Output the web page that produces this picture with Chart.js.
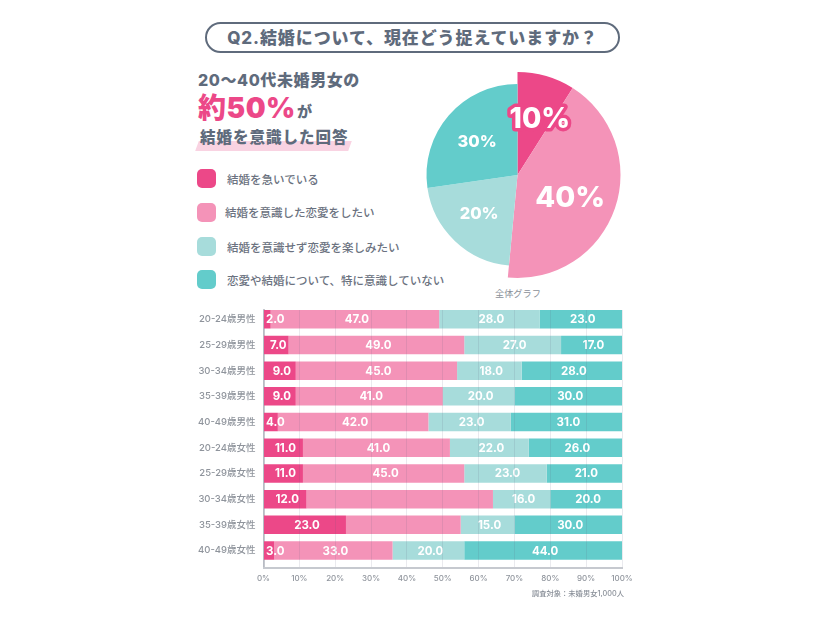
<!DOCTYPE html>
<html lang="ja"><head><meta charset="utf-8">
<script src="https://cdn.jsdelivr.net/npm/chart.js@4"></script>
<style>
html,body{margin:0;padding:0;background:#fff;}
body{width:826px;height:620px;position:relative;overflow:hidden;font-family:Inter,"Noto Sans CJK JP",sans-serif;color:#5f6b7c;}
canvas{position:absolute;}
.t{position:absolute;white-space:nowrap;line-height:1;}
#title{position:absolute;left:205px;top:22px;width:411px;height:27px;border:2.5px solid #5f6b7c;border-radius:17px;text-align:center;font-weight:800;font-size:17px;line-height:28px;letter-spacing:.9px;}
.sw{position:absolute;left:197px;width:19px;height:19px;border-radius:5px;}
.lg{font-size:11.5px;font-weight:500;color:#6b7280;}
#bar{position:absolute;left:197px;top:141px;width:153px;height:10px;background:#f9d3e2;transform:skewX(-20deg);}
</style></head><body>
<div id="title">Q2.結婚について、現在どう捉えていますか？</div>
<div class="t" style="left:198px;top:72px;font-size:16px;font-weight:800;letter-spacing:.6px">20～40代未婚男女の</div>
<div class="t" style="left:198px;top:94px;font-size:28px;font-weight:900;color:#ec4888;letter-spacing:.5px">約50%</div>
<div class="t" style="left:297px;top:104px;font-size:15px;font-weight:800">が</div>
<div id="bar"></div>
<div class="t" style="left:200px;top:130px;font-size:15.5px;font-weight:800;letter-spacing:1px">結婚を意識した回答</div>
<div class="sw" style="top:169px;background:#ec4888"></div>
<div class="sw" style="top:203px;background:#f493b8"></div>
<div class="sw" style="top:236.5px;background:#a7dcdb"></div>
<div class="sw" style="top:270px;background:#63cccb"></div>
<div class="t lg" style="left:227px;top:174.5px">結婚を急いでいる</div>
<div class="t lg" style="left:225px;top:207.5px">結婚を意識した恋愛をしたい</div>
<div class="t lg" style="left:227px;top:242.5px">結婚を意識せず恋愛を楽しみたい</div>
<div class="t lg" style="left:227px;top:275.5px">恋愛や結婚について、特に意識していない</div>
<div class="t" style="left:495px;top:289px;font-size:9.2px;color:#8a9099">全体グラフ</div>
<canvas id="pie" width="215" height="216" style="left:410px;top:67px;width:215px;height:216px"></canvas>
<canvas id="bars" width="826" height="300" style="left:0;top:300px;width:826px;height:300px"></canvas>
<div class="t" style="right:202px;top:590px;font-size:7.3px;font-weight:500;color:#8a9099">調査対象：未婚男女1,000人</div>
<script>
const seriesNames = ['結婚を急いでいる','結婚を意識した恋愛をしたい','結婚を意識せず恋愛を楽しみたい','恋愛や結婚について、特に意識していない'];
const seriesColors = ['#ec4888','#f493b8','#a7dcdb','#63cccb'];

const pieValues = [9, 42.5, 21.2, 27.3];
const pieLabels = ['10%','40%','20%','30%'];

const ageGroups = ['20-24歳男性','25-29歳男性','30-34歳男性','35-39歳男性','40-49歳男性','20-24歳女性','25-29歳女性','30-34歳女性','35-39歳女性','40-49歳女性'];
const inAHurry   = [2,7,9,9,4,11,11,12,23,3];
const wantMarry  = [47,49,45,41,42,41,45,52,32,33];
const justEnjoy  = [28,27,18,20,23,22,23,16,15,20];
const notThinking= [23,17,28,30,31,26,21,20,30,44];
const percentTicks = [0,10,20,30,40,50,60,70,80,90,100];
const rowsWithoutLabel = [7,8];

const pieOuter = [103,103,91,91];
const pieText = [
  {dx:8,dy:-6,size:28,stroke:true},
  {dx:4,dy:7,size:29},
  {dx:-7,dy:6,size:16.5},
  {dx:-6,dy:-3,size:16.5}
];
const piePlugin = {
  id:'pieStyle',
  afterDatasetsUpdate(chart){
    chart.getDatasetMeta(0).data.forEach((a,i)=>{a.outerRadius = pieOuter[i];});
  },
  afterDatasetsDraw(chart){
    const c = chart.ctx;
    chart.getDatasetMeta(0).data.forEach((a,i)=>{
      const p = a.getCenterPoint(), s = pieText[i];
      c.save();
      c.font = `800 ${s.size}px Inter, "Noto Sans CJK JP"`;
      c.textAlign='center'; c.textBaseline='middle'; c.lineJoin='round';
      if(s.stroke){c.strokeStyle=seriesColors[0];c.lineWidth=7;c.strokeText(pieLabels[i],p.x+s.dx,p.y+s.dy);}
      c.fillStyle='#fff';
      c.fillText(pieLabels[i],p.x+s.dx,p.y+s.dy);
      c.restore();
    });
  }
};
new Chart(document.getElementById('pie'),{
  type:'pie',
  data:{labels:seriesNames,datasets:[{data:pieValues,backgroundColor:seriesColors,borderWidth:0}]},
  options:{responsive:false,animation:false,radius:103,layout:{padding:0},plugins:{legend:{display:false},tooltip:{enabled:false}}},
  plugins:[piePlugin]
});

const barLabelPlugin = {
  id:'barLabels',
  afterDatasetsDraw(chart){
    const c = chart.ctx;
    c.save();
    c.font='700 11.5px Inter, "Noto Sans CJK JP"';
    c.fillStyle='#fff'; c.textAlign='center'; c.textBaseline='middle';
    chart.data.datasets.forEach((ds,d)=>{
      chart.getDatasetMeta(d).data.forEach((b,i)=>{
        if(d===1 && rowsWithoutLabel.includes(i)) return;
        const text = ds.data[i].x.toFixed(1);
        const w = c.measureText(text).width;
        const x = Math.max((b.base+b.x)/2+2, b.base+w/2+2);
        c.fillText(text,x,b.y+.5);
      });
    });
    c.restore();
  }
};
const toPoints = arr => arr.map((x,y)=>({x,y}));
const axisGray = '#c6c9cf';
new Chart(document.getElementById('bars'),{
  type:'bar',
  data:{datasets:[inAHurry,wantMarry,justEnjoy,notThinking].map((d,i)=>({
    label:seriesNames[i],data:toPoints(d),backgroundColor:seriesColors[i],borderWidth:0,
    barPercentage:.72,categoryPercentage:1
  }))},
  options:{
    indexAxis:'y',responsive:false,animation:false,
    layout:{padding:{left:180,right:204,top:10,bottom:11.7}},
    plugins:{legend:{display:false},tooltip:{enabled:false}},
    scales:{
      x:{stacked:true,min:0,max:100,
        afterBuildTicks(s){s.ticks=percentTicks.map(value=>({value}));},
        afterFit(s){s.height=20;},
        grid:{color:'rgba(90,90,120,.13)',z:1,drawTicks:false},
        border:{color:axisGray,width:2,z:1},
        ticks:{callback:v=>v+'%',color:'#8f949c',font:{family:'Inter',size:8,weight:'500'},padding:5,maxRotation:0,autoSkip:false}
      },
      y:{type:'linear',stacked:true,reverse:true,offset:false,min:-0.36,max:9.69,
        afterBuildTicks(s){s.ticks=ageGroups.map((_,value)=>({value}));},
        afterFit(s){s.width=83.5;s.paddingTop=0;s.paddingBottom=0;},
        grid:{display:false,offset:false,drawTicks:false},
        border:{color:axisGray,width:2},
        ticks:{callback:v=>ageGroups[v],color:'#8f949c',font:{family:'Inter,"Noto Sans CJK JP"',size:9.5,weight:'500'},padding:8,autoSkip:false}
      }
    }
  },
  plugins:[barLabelPlugin]
});
</script>
</body></html>
